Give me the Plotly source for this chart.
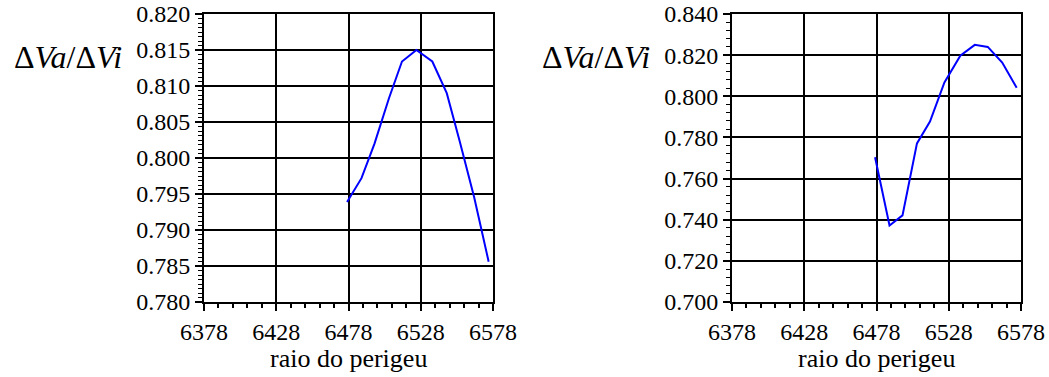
import plotly.graph_objects as go
from plotly.subplots import make_subplots

# Perigee radius samples (km) shared by both panels
raio = [6477, 6487, 6496, 6506, 6515, 6525, 6536, 6546, 6555, 6565, 6575]

# Velocity-increment ratio for each case
razao_esq = [0.7939, 0.7972, 0.8020, 0.8083, 0.8134, 0.8150, 0.8134, 0.8090, 0.8023, 0.7945, 0.7856]
razao_dir = [0.7704, 0.7372, 0.7421, 0.7771, 0.7877, 0.8067, 0.8197, 0.8250, 0.8240, 0.8164, 0.8042]

x_ticks = [6378, 6428, 6478, 6528, 6578]
titulo_y = "Δ<i>Va</i>/Δ<i>Vi</i>"
titulo_x = "raio do perigeu"

W, H = 1049, 377
FONT = "Liberation Serif"

fig = make_subplots(rows=1, cols=2)

fig.add_trace(go.Scatter(x=raio, y=razao_esq, mode="lines",
                         line=dict(color="#0000ff", width=2), showlegend=False), row=1, col=1)
fig.add_trace(go.Scatter(x=raio, y=razao_dir, mode="lines",
                         line=dict(color="#0000ff", width=2), showlegend=False), row=1, col=2)

y_dom = [1 - 302 / H, 1 - 14 / H]

common_axis = dict(
    showline=True, mirror=True, linecolor="black", linewidth=2,
    showgrid=True, gridcolor="black", gridwidth=2,
    zeroline=False, ticks="outside", ticklen=7, tickwidth=2, tickcolor="black",
    tickfont=dict(family=FONT, size=24, color="black"),
    automargin=False,
)

fig.update_xaxes(range=[6378, 6578], tickvals=x_ticks, ticktext=[str(v) for v in x_ticks],
                 minor=dict(dtick=10, tick0=6378, ticks="outside", ticklen=4, tickwidth=2,
                            tickcolor="black", showgrid=False),
                 **common_axis)
fig.update_xaxes(domain=[204 / W, 493 / W], row=1, col=1)
fig.update_xaxes(domain=[732 / W, 1021 / W], row=1, col=2)

fig.update_yaxes(domain=y_dom, row=1, col=1, range=[0.780, 0.820], tick0=0.780, dtick=0.005,
                 tickformat=".3f",
                 minor=dict(dtick=0.000625, tick0=0.780, ticks="outside", ticklen=4, tickwidth=1,
                            tickcolor="black", showgrid=False),
                 **common_axis)
fig.update_yaxes(domain=y_dom, row=1, col=2, range=[0.700, 0.840], tick0=0.700, dtick=0.020,
                 tickformat=".3f",
                 minor=dict(dtick=0.004, tick0=0.700, ticks="outside", ticklen=4, tickwidth=1,
                            tickcolor="black", showgrid=False),
                 **common_axis)

anns = []
for cx in (67.5, 595.5):
    anns.append(dict(text=titulo_y, x=cx / W, y=1 - 57 / H, xref="paper", yref="paper",
                     showarrow=False, xanchor="center", yanchor="middle",
                     font=dict(family=FONT, size=32, color="black")))
for cx in ((204 + 493) / 2, (732 + 1021) / 2):
    anns.append(dict(text=titulo_x, x=cx / W, y=1 - 358 / H, xref="paper", yref="paper",
                     showarrow=False, xanchor="center", yanchor="middle",
                     font=dict(family=FONT, size=26, color="black")))

fig.update_layout(width=W, height=H, autosize=False, margin=dict(l=0, r=0, t=0, b=0, pad=0),
                  font=dict(family=FONT),
                  paper_bgcolor="white", plot_bgcolor="white", annotations=anns)

fig.write_html("out.html")
